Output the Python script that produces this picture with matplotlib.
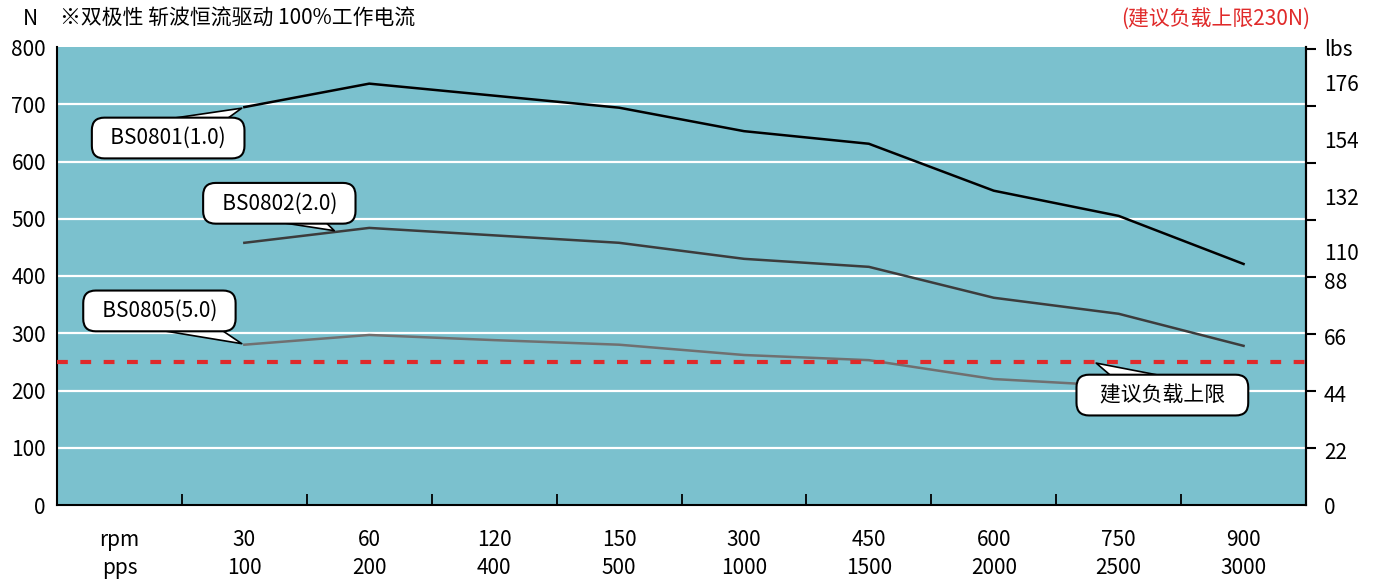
import matplotlib
matplotlib.use('Agg')
import matplotlib.pyplot as plt
from matplotlib.transforms import blended_transform_factory

plt.rcParams['font.family'] = ['Noto Sans CJK SC', 'DejaVu Sans']

# ------------------------------ data -------------------------------------
RPM = ['30', '60', '120', '150', '300', '450', '600', '750', '900']
PPS = ['100', '200', '400', '500', '1000', '1500', '2000', '2500', '3000']
BS0801 = [695, 736, 715, 694, 653, 631, 549, 505, 421]
BS0802 = [458, 484, 471, 458, 430, 416, 362, 334, 278]
BS0805 = [280, 297, 288, 280, 262, 253, 220, 208, 195]
LOAD_LIMIT = 250
LBS_LABELS = ['lbs', '176', '154', '132', '110', '88', '66', '44', '22', '0']
LBS_POS = [803, 741, 641, 541, 444, 393, 295, 196, 96, 0]

BG = '#7BC1CE'
RED = '#E02A2A'
FS = 15
# -------------------------------------------------------------------------

fig = plt.figure(figsize=(13.78, 5.83), dpi=100)
ax = fig.add_axes([57 / 1378, 78 / 583, 1249 / 1378, 458 / 583])
ax.set_facecolor(BG)

x = list(range(len(RPM)))
ax.set_xlim(-1.5, len(RPM) - 0.5)
ax.set_ylim(0, 800)

for v in range(100, 800, 100):
    ax.axhline(v, color='white', lw=1.6, zorder=1)

ax.plot(x, BS0801, color='#000000', lw=1.8, zorder=3)
ax.plot(x, BS0802, color='#3C3C3C', lw=1.8, zorder=3)
ax.plot(x, BS0805, color='#707070', lw=1.8, zorder=3)
ax.axhline(LOAD_LIMIT, color=RED, lw=3, ls=(0, (2.6, 3.0)), zorder=4)

# spines / ticks
ax.spines['top'].set_visible(False)
for s in ('left', 'bottom', 'right'):
    ax.spines[s].set_color('black')
    ax.spines[s].set_linewidth(1.5)
ax.set_yticks(range(0, 801, 100))
ax.tick_params(axis='y', length=0, labelsize=FS, pad=8)
ax.set_xticks([i - 0.5 for i in range(len(RPM))])
ax.set_xticklabels([])
ax.tick_params(axis='x', direction='in', length=8, width=1.3, color='black')

# right (lbs) axis
ax2 = ax.twinx()
ax2.set_ylim(0, 800)
ax2.set_yticks(LBS_POS)
ax2.set_yticklabels(LBS_LABELS)
ax2.tick_params(axis='y', which='major', length=0, labelsize=FS, pad=13)
ax2.set_yticks(range(0, 801, 100), minor=True)
ax2.tick_params(axis='y', which='minor', length=7, width=1.5, direction='out')
for s in ('top', 'left', 'bottom'):
    ax2.spines[s].set_visible(False)
ax2.spines['right'].set_linewidth(1.5)

# category labels
tr = blended_transform_factory(ax.transData, ax.transAxes)
ax.text(-1, -0.076, 'rpm', transform=tr, ha='center', va='center', fontsize=FS)
ax.text(-1, -0.138, 'pps', transform=tr, ha='center', va='center', fontsize=FS)
for i in x:
    ax.text(i, -0.076, RPM[i], transform=tr, ha='center', va='center', fontsize=FS)
    ax.text(i, -0.138, PPS[i], transform=tr, ha='center', va='center', fontsize=FS)

# callouts
box = dict(boxstyle='round,pad=0.45,rounding_size=0.6', fc='white', ec='black', lw=1.5)
wedge = dict(arrowstyle='wedge,tail_width=1.8,shrink_factor=0.5', fc='white', ec='black',
             lw=1.2)
callouts = [
    ('  BS0801(1.0)  ', (0, BS0801[0]), (-0.61, 641)),
    ('  BS0802(2.0)  ', (0.74, 477), (0.28, 527)),
    ('  BS0805(5.0)  ', (0, BS0805[0]), (-0.68, 339)),
    ('   建议负载上限   ', (6.8, LOAD_LIMIT), (7.35, 192)),
]
for txt, xy, xyt in callouts:
    ax.annotate(txt, xy=xy, xytext=xyt, ha='center', va='center', fontsize=FS,
                bbox=box, arrowprops=dict(wedge, patchA=None), zorder=6)

# header texts
fig.text(30 / 1378, 1 - 19 / 583, 'N', ha='center', va='center', fontsize=FS)
fig.text(60 / 1378, 1 - 19 / 583, '※双极性 斩波恒流驱动 100%工作电流', ha='left',
         va='center', fontsize=FS)
fig.text(1310 / 1378, 1 - 19 / 583, '(建议负载上限230N)', ha='right', va='center',
         fontsize=FS, color=RED)

fig.savefig('out.png', dpi=100)
